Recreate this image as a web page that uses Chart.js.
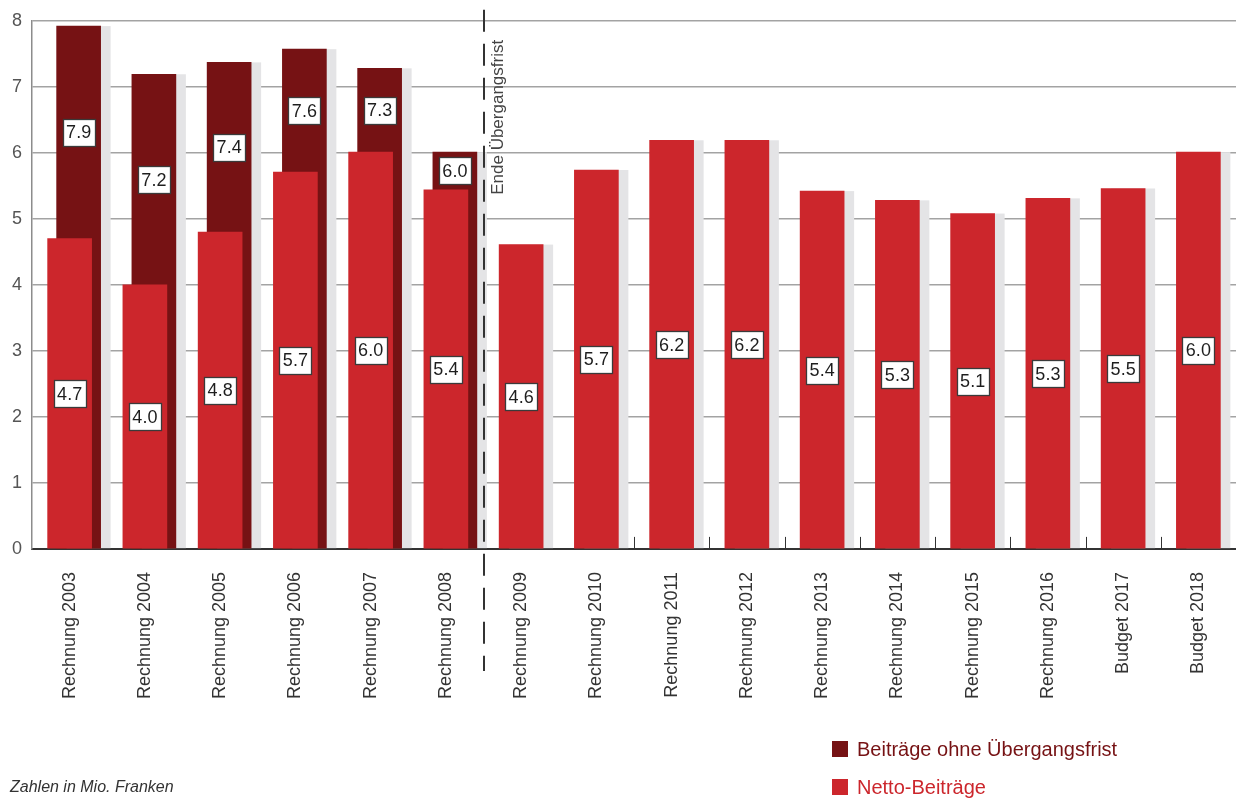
<!DOCTYPE html>
<html lang="de">
<head>
<meta charset="utf-8">
<title>Beiträge ohne Übergangsfrist / Netto-Beiträge</title>
<script src="https://cdn.jsdelivr.net/npm/chart.js"></script>
<style>
  html, body { margin: 0; padding: 0; background: #fff; }
  body { width: 1236px; height: 798px; position: relative; overflow: hidden; font-family: "Liberation Sans", Arial, sans-serif; }
  #wrap { position: absolute; left: 0; top: 0; width: 1236px; height: 798px; }
  .legend { position: absolute; left: 832px; top: 730px; font-size: 20px; line-height: 38px; }
  .legend div { display: flex; align-items: center; white-space: nowrap; }
  .legend .sw { width: 16px; height: 16px; margin-right: 9px; display: inline-block; }
  .note { position: absolute; left: 10px; top: 778px; font-size: 16px; font-style: italic; color: #333; }
</style>
</head>
<body>
<div id="wrap"><canvas id="beitraegeChart"></canvas></div>
<div class="legend">
  <div style="color:#761214"><span class="sw" style="background:#761214"></span>Beiträge ohne Übergangsfrist</div>
  <div style="color:#cc262c"><span class="sw" style="background:#cc262c"></span>Netto-Beiträge</div>
</div>
<div class="note">Zahlen in Mio. Franken</div>
<script>
const categories = [
    'Rechnung 2003', 'Rechnung 2004', 'Rechnung 2005', 'Rechnung 2006',
    'Rechnung 2007', 'Rechnung 2008', 'Rechnung 2009', 'Rechnung 2010',
    'Rechnung 2011', 'Rechnung 2012', 'Rechnung 2013', 'Rechnung 2014',
    'Rechnung 2015', 'Rechnung 2016', 'Budget 2017', 'Budget 2018'
];
const beitraegeOhneFrist = [7.92, 7.19, 7.37, 7.57, 7.28, 6.01, null, null, null, null, null, null, null, null, null, null];
const nettoBeitraege = [4.70, 4.00, 4.80, 5.71, 6.01, 5.44, 4.61, 5.74, 6.19, 6.19, 5.42, 5.28, 5.08, 5.31, 5.46, 6.01];
const yTicks = [0, 1, 2, 3, 4, 5, 6, 7, 8];
const markerAfter = 'Rechnung 2008';
const markerLabel = 'Ende Übergangsfrist';

const RED = '#cc262c';
const DARK = '#761214';
const SHADOW = '#e4e4e6';
const FONT = '"Liberation Sans", Arial, sans-serif';
const darkShift = 9;
const shadowShift = 10;

Chart.defaults.font.family = FONT;

// dark bars sit a bit to the right of the red ones, grey shadow behind
const barLayout = {
    id: 'barLayout',
    afterDatasetsUpdate(chart) {
        chart.getDatasetMeta(1).data.forEach(el => { el.x += darkShift; });
    },
    beforeDatasetsDraw(chart) {
        const ctx = chart.ctx;
        const red = chart.getDatasetMeta(0).data;
        const dark = chart.getDatasetMeta(1).data;
        ctx.save();
        ctx.fillStyle = SHADOW;
        categories.forEach((c, i) => {
            const el = beitraegeOhneFrist[i] != null ? dark[i] : red[i];
            const p = el.getProps(['x', 'y', 'base', 'width'], true);
            ctx.fillRect(p.x - p.width / 2 + shadowShift, p.y, p.width, p.base - p.y);
        });
        ctx.restore();
    }
};

function valueBox(ctx, text, cx, cy) {
    ctx.font = '18px ' + FONT;
    const w = Math.round(ctx.measureText(text).width + 7);
    const h = 27;
    const x = Math.round(cx - w / 2) + 0.5;
    const y = Math.round(cy - h / 2) + 0.5;
    ctx.fillStyle = '#fff';
    ctx.fillRect(x, y, w, h);
    ctx.strokeStyle = '#3a3a3a';
    ctx.lineWidth = 1.3;
    ctx.strokeRect(x, y, w, h);
    ctx.fillStyle = '#1e1e1e';
    ctx.textAlign = 'center';
    ctx.textBaseline = 'middle';
    ctx.fillText(text, cx, cy + 1);
}

const extras = {
    id: 'extras',
    afterDatasetsDraw(chart) {
        const ctx = chart.ctx;
        const xs = chart.scales.x, ys = chart.scales.y;
        const area = chart.chartArea;
        const red = chart.getDatasetMeta(0).data;
        const dark = chart.getDatasetMeta(1).data;

        ctx.save();
        // small tick marks on the baseline
        ctx.strokeStyle = '#333';
        ctx.lineWidth = 1;
        for (let i = 7; i < categories.length - 1; i++) {
            const bx = Math.round((xs.getPixelForValue(i) + xs.getPixelForValue(i + 1)) / 2) + 0.5;
            ctx.beginPath();
            ctx.moveTo(bx, area.bottom);
            ctx.lineTo(bx, area.bottom - 12);
            ctx.stroke();
        }

        // dashed marker
        const idx = categories.indexOf(markerAfter);
        const mx = Math.round((xs.getPixelForValue(idx) + xs.getPixelForValue(idx + 1)) / 2);
        ctx.strokeStyle = '#333';
        ctx.lineWidth = 2;
        ctx.setLineDash([22, 12]);
        ctx.beginPath();
        ctx.moveTo(mx, area.top - 11);
        ctx.lineTo(mx, area.bottom + 122);
        ctx.stroke();
        ctx.setLineDash([]);

        ctx.translate(mx + 19, area.top + 174);
        ctx.rotate(-Math.PI / 2);
        ctx.font = '17px ' + FONT;
        ctx.fillStyle = '#444';
        ctx.textAlign = 'left';
        ctx.textBaseline = 'alphabetic';
        ctx.fillText(markerLabel, 0, 0);
        ctx.restore();

        // value boxes
        ctx.save();
        categories.forEach((c, i) => {
            const r = nettoBeitraege[i];
            valueBox(ctx, r.toFixed(1), red[i].x, ys.getPixelForValue(r / 2));
            const d = beitraegeOhneFrist[i];
            if (d != null) {
                valueBox(ctx, d.toFixed(1), dark[i].x, ys.getPixelForValue((r + d) / 2));
            }
        });
        ctx.restore();
    }
};

new Chart(document.getElementById('beitraegeChart'), {
    type: 'bar',
    data: {
        labels: categories,
        datasets: [
            {
                label: 'Netto-Beiträge',
                data: nettoBeitraege,
                backgroundColor: RED,
                barThickness: 44,
                grouped: false,
                order: 0
            },
            {
                label: 'Beiträge ohne Übergangsfrist',
                data: beitraegeOhneFrist,
                backgroundColor: DARK,
                barThickness: 44,
                grouped: false,
                order: 1
            }
        ]
    },
    options: {
        responsive: true,
        maintainAspectRatio: false,
        animation: false,
        layout: { padding: { top: 15, right: 0, bottom: 84, left: 2 } },
        plugins: {
            legend: { display: false },
            tooltip: { enabled: false }
        },
        scales: {
            x: {
                grid: { display: false },
                border: { display: true, color: '#333', width: 2 },
                afterFit: scale => { scale.paddingRight = 0; },
                ticks: {
                    color: '#333',
                    font: { size: 18 },
                    minRotation: 90,
                    maxRotation: 90,
                    padding: 15
                }
            },
            y: {
                min: 0,
                max: 8,
                afterBuildTicks: axis => { axis.ticks = yTicks.map(v => ({ value: v })); },
                grid: {
                    color: ctx => ctx.tick && ctx.tick.value === 0 ? '#333' : '#a3a3a3',
                    lineWidth: 1.5,
                    drawTicks: false
                },
                border: { color: '#8c8c8c', width: 1.5 },
                ticks: {
                    color: '#555',
                    font: { size: 18 },
                    padding: 10
                }
            }
        }
    },
    plugins: [barLayout, extras]
});
</script>
</body>
</html>
